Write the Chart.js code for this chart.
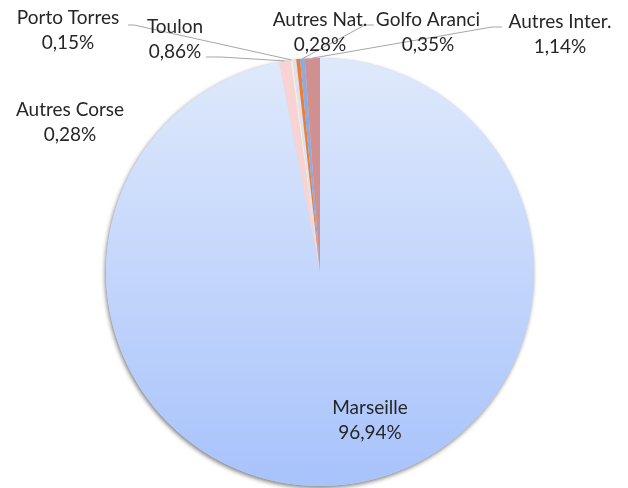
<!DOCTYPE html>
<html>
<head>
<meta charset="utf-8">
<script src="https://cdn.jsdelivr.net/npm/chart.js@4/dist/chart.umd.min.js"></script>
<style>
  html, body { margin: 0; padding: 0; background: #ffffff; }
  #wrap { width: 628px; height: 488px; }
</style>
</head>
<body>
<div id="wrap"><canvas id="c" width="628" height="488"></canvas></div>
<script>
// ---- Data ----
const categories = ['Marseille', 'Toulon', 'Porto Torres', 'Autres Corse', 'Autres Nat.', 'Golfo Aranci', 'Autres Inter.'];
const shares = [96.94, 0.86, 0.15, 0.28, 0.28, 0.35, 1.14];

// ---- Styles / layout (not data) ----
const sliceColors = [null, '#f9d3d3', '#eef5d3', '#e2def3', '#ed7d31', '#8faadc', '#d09090'];
const labelCenters = [[370, 408], [175, 27], [68, 18], [70, 110], [320, 20], [428, 20], [560, 22]];
const leaderStarts = [null, [[206, 57], [221, 57]], [[128, 25], [134, 25]], null, null, [[374, 25], [365, 25]], [[502, 27], [492, 27]]];
const lineGap = 25;
const fontSpec = '19px "Lato", "Open Sans", sans-serif';

function fmt(v) { return v.toFixed(2).replace('.', ',') + '%'; }

const shadowPlugin = {
  id: 'shadowPlugin',
  beforeDatasetsDraw(chart) {
    const arc = chart.getDatasetMeta(0).data[0];
    if (!arc) return;
    const ctx = chart.ctx;
    ctx.save();
    ctx.shadowColor = 'rgba(0,0,0,0.5)';
    ctx.shadowBlur = 4;
    ctx.shadowOffsetX = -1;
    ctx.shadowOffsetY = 2;
    ctx.fillStyle = '#c8d8f8';
    ctx.beginPath();
    ctx.arc(arc.x, arc.y, arc.outerRadius, 0, Math.PI * 2);
    ctx.fill();
    ctx.restore();
  }
};

const labelPlugin = {
  id: 'labelPlugin',
  afterDatasetsDraw(chart) {
    const ctx = chart.ctx;
    const meta = chart.getDatasetMeta(0);
    ctx.save();
    ctx.strokeStyle = '#a6a6a6';
    ctx.lineWidth = 1;
    meta.data.forEach((arc, i) => {
      const ls = leaderStarts[i];
      if (!ls) return;
      const mid = (arc.startAngle + arc.endAngle) / 2;
      const ax = arc.x + Math.cos(mid) * arc.outerRadius;
      const ay = arc.y + Math.sin(mid) * arc.outerRadius;
      ctx.beginPath();
      ctx.moveTo(ls[0][0], ls[0][1]);
      ctx.lineTo(ls[1][0], ls[1][1]);
      ctx.lineTo(ax, ay);
      ctx.stroke();
    });
    ctx.font = fontSpec;
    ctx.fillStyle = '#262626';
    ctx.textAlign = 'center';
    ctx.textBaseline = 'middle';
    categories.forEach((name, i) => {
      const [x, y] = labelCenters[i];
      ctx.fillText(name, x, y);
      ctx.fillText(fmt(shares[i]), x, y + lineGap);
    });
    ctx.restore();
  }
};

const ctx = document.getElementById('c').getContext('2d');
new Chart(ctx, {
  type: 'pie',
  data: {
    labels: categories,
    datasets: [{
      data: shares,
      borderWidth: 0,
      backgroundColor: (c) => {
        const i = c.dataIndex;
        if (i === 0) {
          const area = c.chart.chartArea;
          if (!area) return '#c8d8f8';
          const g = c.chart.ctx.createLinearGradient(0, area.top, 0, area.bottom);
          g.addColorStop(0, '#dfe9fb');
          g.addColorStop(1, '#a8c3fb');
          return g;
        }
        return sliceColors[i];
      }
    }]
  },
  options: {
    responsive: false,
    animation: false,
    layout: { padding: { top: 58, bottom: 2, left: 12, right: 0 } },
    plugins: { legend: { display: false }, tooltip: { enabled: false } }
  },
  plugins: [shadowPlugin, labelPlugin]
});
</script>
</body>
</html>
